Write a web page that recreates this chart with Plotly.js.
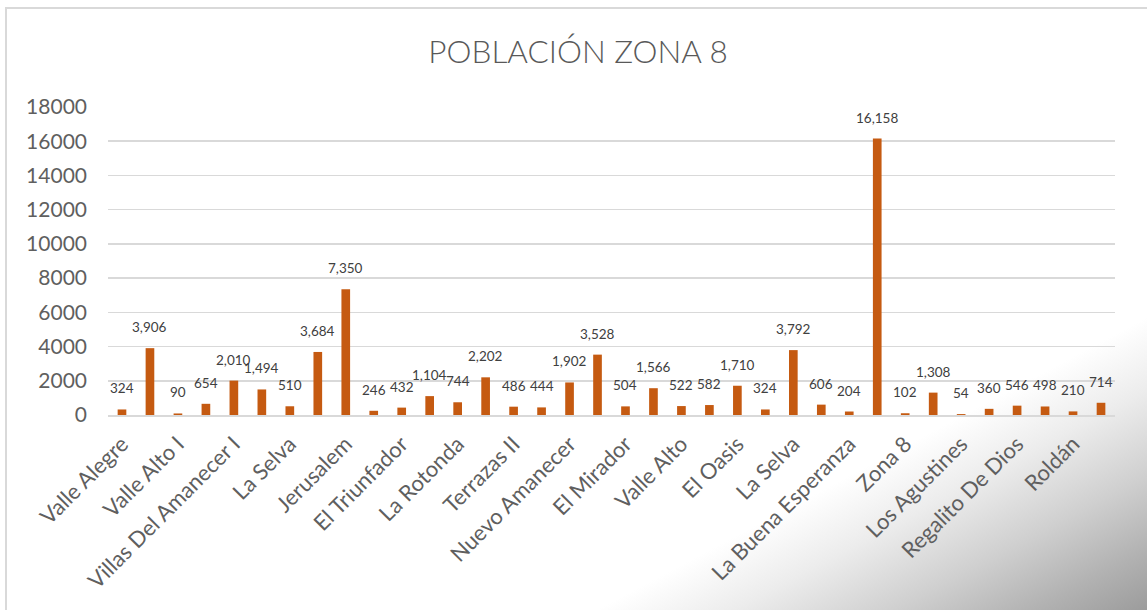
<!DOCTYPE html>
<html>
<head>
<meta charset="utf-8">
<script src="https://cdn.plot.ly/plotly-3.0.1.min.js"></script>
<style>
  html, body { margin: 0; padding: 0; width: 1147px; height: 610px; overflow: hidden; background: #ffffff; }
  #bg {
    position: absolute; left: 0; top: 0; width: 1147px; height: 610px;
    background: linear-gradient(152deg, #ffffff 0%, #ffffff 76%, #ececec 82%, #cfcfcf 89%, #b2b2b2 95%, #9c9c9c 100%);
  }
  #frame {
    position: absolute; left: 5px; top: 7px; width: 1142px; height: 603px;
    border-left: 2px solid #d9d9d9; border-top: 2px solid #d9d9d9; box-sizing: border-box;
  }
  #chart { position: absolute; left: 0; top: 0; width: 1147px; height: 610px; }
</style>
</head>
<body>
<div id="bg"></div>
<div id="frame"></div>
<div id="chart"></div>
<script>
// Category labels shown on the axis (every other bar is labelled)
const categories = ["Valle Alegre", "Valle Alto I", "Villas Del Amanecer I", "La Selva", "Jerusalem",
  "El Triunfador", "La Rotonda", "Terrazas II", "Nuevo Amanecer", "El Mirador", "Valle Alto",
  "El Oasis", "La Selva", "La Buena Esperanza", "Zona 8", "Los Agustines", "Regalito De Dios", "Roldán"];

// Population per bar (36 bars)
const poblacion = [324, 3906, 90, 654, 2010, 1494, 510, 3684, 7350, 246, 432, 1104, 744, 2202,
  486, 444, 1902, 3528, 504, 1566, 522, 582, 1710, 324, 3792, 606, 204, 16158, 102, 1308,
  54, 360, 546, 498, 210, 714];

const yTicks = [0, 2000, 4000, 6000, 8000, 10000, 12000, 14000, 16000, 18000];

const titleText = "POBLACIÓN ZONA 8";

const positions = poblacion.map((_, i) => i + 1);
const tickPositions = categories.map((_, i) => 2 * i + 1);

const FONT = "Lato, 'Open Sans', sans-serif";

const trace = {
  type: "bar",
  x: positions,
  y: poblacion,
  width: 0.31,
  marker: { color: "#C55A11" },
  hoverinfo: "x+y"
};

const annotations = poblacion.map((v, i) => ({
  x: positions[i],
  y: v,
  xref: "x",
  yref: "y",
  text: v.toLocaleString("en-US"),
  showarrow: false,
  yanchor: "middle",
  xanchor: "center",
  yshift: 21,
  font: { family: FONT, size: 13.5, color: "#404040" }
}));

const layout = {
  width: 1147,
  height: 610,
  paper_bgcolor: "rgba(0,0,0,0)",
  plot_bgcolor: "rgba(0,0,0,0)",
  margin: { l: 108, r: 32, t: 107, b: 194.5 },
  title: {
    text: titleText,
    x: 578 / 1147,
    xanchor: "center",
    xref: "container",
    y: 1 - 52 / 610,
    yref: "container",
    yanchor: "middle",
    font: { family: FONT, size: 31.5, color: "#595959", weight: 300 }
  },
  showlegend: false,
  xaxis: {
    range: [0.5, poblacion.length + 0.5],
    tickmode: "array",
    tickvals: tickPositions,
    ticktext: categories,
    tickangle: -45,
    showgrid: false,
    zeroline: false,
    showline: true,
    linecolor: "#d9d9d9",
    linewidth: 1.5,
    ticks: "",
    ticklabelstandoff: 6,
    tickfont: { family: FONT, size: 22, color: "#5f5f5f" },
    fixedrange: true
  },
  yaxis: {
    range: [0, 18000],
    tickmode: "array",
    tickvals: yTicks,
    ticktext: yTicks.map(String),
    showgrid: true,
    gridcolor: "#d9d9d9",
    gridwidth: 1.5,
    zeroline: false,
    showline: false,
    ticks: "",
    ticklabelstandoff: 20,
    tickfont: { family: FONT, size: 21, color: "#5f5f5f" },
    fixedrange: true
  },
  annotations: annotations
};

Plotly.newPlot("chart", [trace], layout, { displayModeBar: false, staticPlot: true });
</script>
</body>
</html>
